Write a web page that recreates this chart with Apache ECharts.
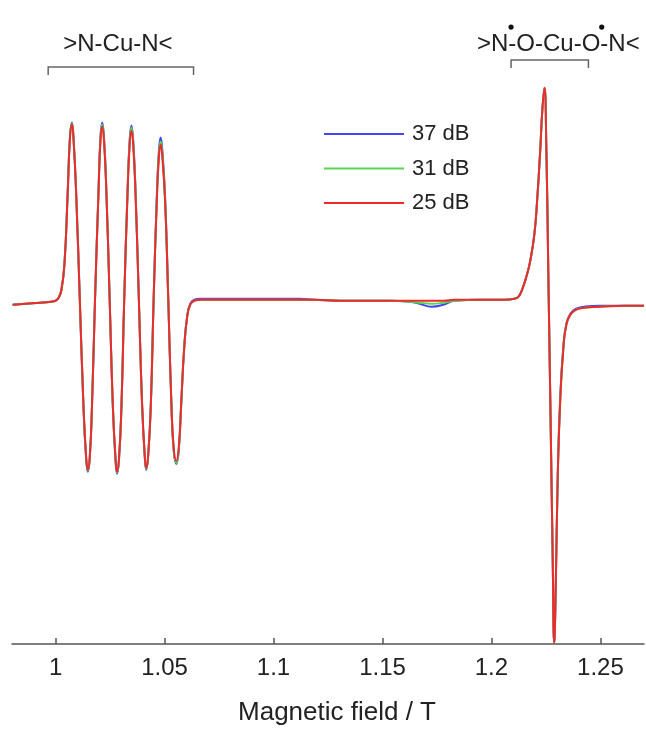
<!DOCTYPE html>
<html><head><meta charset="utf-8">
<script src="https://cdn.jsdelivr.net/npm/echarts@6/dist/echarts.min.js"></script>
<style>html,body{margin:0;padding:0;background:#fff}#c{width:646px;height:731px}</style>
</head><body><div id="c"></div>
<script>
// Magnetic field (T)
const field = [
 0.9803,0.9863,0.9931,0.9977,1.0000,1.0014,1.0027,1.0041,1.0055,1.0066,
 1.0075,1.0082,1.0094,1.0111,1.0128,1.0140,1.0148,1.0157,1.0167,1.0181,
 1.0197,1.0206,1.0214,1.0222,1.0233,1.0248,1.0263,1.0275,1.0282,1.0291,
 1.0302,1.0315,1.0330,1.0340,1.0348,1.0356,1.0367,1.0382,1.0397,1.0409,
 1.0416,1.0425,1.0437,1.0450,1.0464,1.0474,1.0482,1.0490,1.0503,1.0517,
 1.0531,1.0542,1.0554,1.0565,1.0577,1.0590,1.0604,1.0618,1.0636,1.0664,
 1.0801,1.0984,1.1121,1.1190,1.1304,1.1396,1.1533,1.1625,1.1670,1.1725,
 1.1780,1.1831,1.1945,1.2059,1.2105,1.2124,1.2142,1.2160,1.2178,1.2197,
 1.2210,1.2224,1.2233,1.2243,1.2252,1.2261,1.2272,1.2281,1.2288,1.2295,
 1.2304,1.2316,1.2330,1.2343,1.2362,1.2389,1.2426,1.2494,1.2609,1.2700
];
// 37 dB
const s37 = [
 -0.04,-0.03,-0.02,-0.01,0.00,0.03,0.11,0.38,1.06,1.65,
 1.79,1.65,1.11,0.02,-1.07,-1.58,-1.72,-1.58,-1.07,0.02,
 1.11,1.65,1.79,1.65,1.11,0.02,-1.08,-1.60,-1.74,-1.60,
 -1.08,0.02,1.09,1.62,1.76,1.62,1.09,0.02,-1.05,-1.56,
 -1.70,-1.56,-1.05,0.02,1.02,1.51,1.64,1.51,1.02,0.02,
 -1.02,-1.51,-1.64,-1.51,-1.02,-0.48,-0.15,-0.03,0.01,0.02,
 0.02,0.02,0.02,0.01,0.00,0.00,0.00,-0.01,-0.03,-0.06,
 -0.04,0.00,0.01,0.01,0.02,0.04,0.12,0.24,0.40,0.67,
 1.02,1.52,1.90,2.14,1.52,0.27,-1.28,-2.58,-3.44,-2.88,
 -1.78,-0.95,-0.46,-0.24,-0.13,-0.08,-0.06,-0.05,-0.05,-0.05
];
// 31 dB
const s31 = [
 -0.04,-0.03,-0.02,-0.01,0.00,0.03,0.11,0.38,1.06,1.64,
 1.78,1.64,1.10,0.02,-1.06,-1.57,-1.71,-1.57,-1.06,0.02,
 1.10,1.63,1.77,1.63,1.10,0.02,-1.07,-1.59,-1.73,-1.59,
 -1.07,0.02,1.08,1.60,1.74,1.60,1.08,0.02,-1.05,-1.55,
 -1.69,-1.55,-1.05,0.02,0.99,1.47,1.60,1.47,0.99,0.02,
 -1.01,-1.50,-1.63,-1.50,-1.01,-0.48,-0.16,-0.04,0.00,0.01,
 0.01,0.01,0.01,0.01,0.00,0.00,0.00,-0.01,-0.02,-0.03,
 -0.02,0.00,0.01,0.01,0.02,0.04,0.12,0.24,0.40,0.67,
 1.02,1.52,1.90,2.14,1.52,0.27,-1.28,-2.58,-3.44,-2.88,
 -1.78,-0.97,-0.47,-0.25,-0.14,-0.09,-0.07,-0.06,-0.05,-0.05
];
// 25 dB
const s25 = [
 -0.04,-0.03,-0.02,-0.01,0.00,0.03,0.11,0.38,1.05,1.63,
 1.77,1.63,1.10,0.02,-1.05,-1.56,-1.70,-1.56,-1.05,0.02,
 1.09,1.61,1.75,1.61,1.09,0.02,-1.07,-1.58,-1.72,-1.58,
 -1.07,0.02,1.06,1.57,1.71,1.57,1.06,0.02,-1.04,-1.55,
 -1.68,-1.55,-1.04,0.02,0.97,1.44,1.57,1.44,0.97,0.02,
 -1.00,-1.48,-1.61,-1.48,-1.00,-0.48,-0.16,-0.04,0.00,0.01,
 0.01,0.01,0.01,0.01,0.00,0.00,0.00,0.00,0.00,0.00,
 0.00,0.01,0.01,0.01,0.02,0.04,0.12,0.24,0.40,0.67,
 1.02,1.52,1.90,2.14,1.52,0.27,-1.28,-2.58,-3.44,-2.88,
 -1.78,-0.98,-0.48,-0.25,-0.14,-0.09,-0.07,-0.06,-0.05,-0.05
];
const seriesNames = ['37 dB', '31 dB', '25 dB'];
const seriesColors = ['#4646ee', '#55d655', '#ee2b2b'];
const tickValues = [1, 1.05, 1.1, 1.15, 1.2, 1.25];
// annotations
const bracketFrom = [0.9966, 1.2090];
const bracketTo = [1.0633, 1.2445];
const bracketLevel = [2.35, 2.42];
const labelTexts = ['>N-Cu-N<', '>N-O-Cu-O-N<'];
const labelField = [1.0286, 1.2307];
const labelLevel = 2.58;
const dotField = [1.2090, 1.2506];
const dotLevel = 2.75;

const chart = echarts.init(document.getElementById('c'), null, {renderer: 'canvas'});
const allSeries = [s37, s31, s25];
const FONT = 'Liberation Sans, Arial, sans-serif';

chart.setOption({
  animation: false,
  backgroundColor: '#fff',
  grid: {left: 12, right: 2, top: 47, bottom: 84},
  legend: {
    data: seriesNames,
    orient: 'vertical',
    left: 319, top: 117,
    icon: 'rect', itemWidth: 80, itemHeight: 2, itemGap: 10.5,
    textStyle: {fontSize: 22, lineHeight: 24, color: '#222', fontFamily: FONT, padding: [0, 0, 0, 3]}
  },
  xAxis: {
    type: 'value', min: 0.98, max: 1.27,
    axisLine: {show: true, onZero: false, lineStyle: {color: '#555', width: 1.5}},
    axisTick: {show: true, inside: true, length: 6, customValues: tickValues, lineStyle: {color: '#555', width: 1.5}},
    axisLabel: {customValues: tickValues, fontSize: 24, color: '#222', fontFamily: FONT, margin: 12},
    splitLine: {show: false},
    name: 'Magnetic field / T', nameLocation: 'middle', nameGap: 56,
    nameTextStyle: {fontSize: 26, color: '#222', fontFamily: FONT, padding: [0, 0, 0, 18]}
  },
  yAxis: {type: 'value', min: -3.45, max: 2.55, show: false},
  series: allSeries.map((arr, k) => ({
    name: seriesNames[k], type: 'line', showSymbol: false, symbol: 'none',
    smooth: 0.5,
    color: seriesColors[k],
    lineStyle: {width: 2, color: seriesColors[k]},
    data: field.map((f, i) => [f, arr[i]])
  }))
});

const px = (x, y) => chart.convertToPixel({gridIndex: 0}, [x, y]);
const graphics = [];
for (let i = 0; i < bracketFrom.length; i++) {
  const a = px(bracketFrom[i], bracketLevel[i]);
  const b = px(bracketTo[i], bracketLevel[i]);
  graphics.push({type: 'polyline', silent: true,
    shape: {points: [[a[0], a[1] + 8], [a[0], a[1]], [b[0], b[1]], [b[0], b[1] + 8]]},
    style: {stroke: '#666', lineWidth: 1.5, fill: null}});
  const t = px(labelField[i], labelLevel);
  graphics.push({type: 'text', silent: true, x: t[0], y: t[1],
    style: {text: labelTexts[i], fontSize: 24, fontFamily: FONT, fill: '#222', align: 'center', verticalAlign: 'middle'}});
}
for (let i = 0; i < dotField.length; i++) {
  const d = px(dotField[i], dotLevel);
  graphics.push({type: 'circle', silent: true, shape: {cx: d[0], cy: d[1], r: 2.6}, style: {fill: '#111'}});
}
chart.setOption({graphic: graphics});
</script>
</body></html>
